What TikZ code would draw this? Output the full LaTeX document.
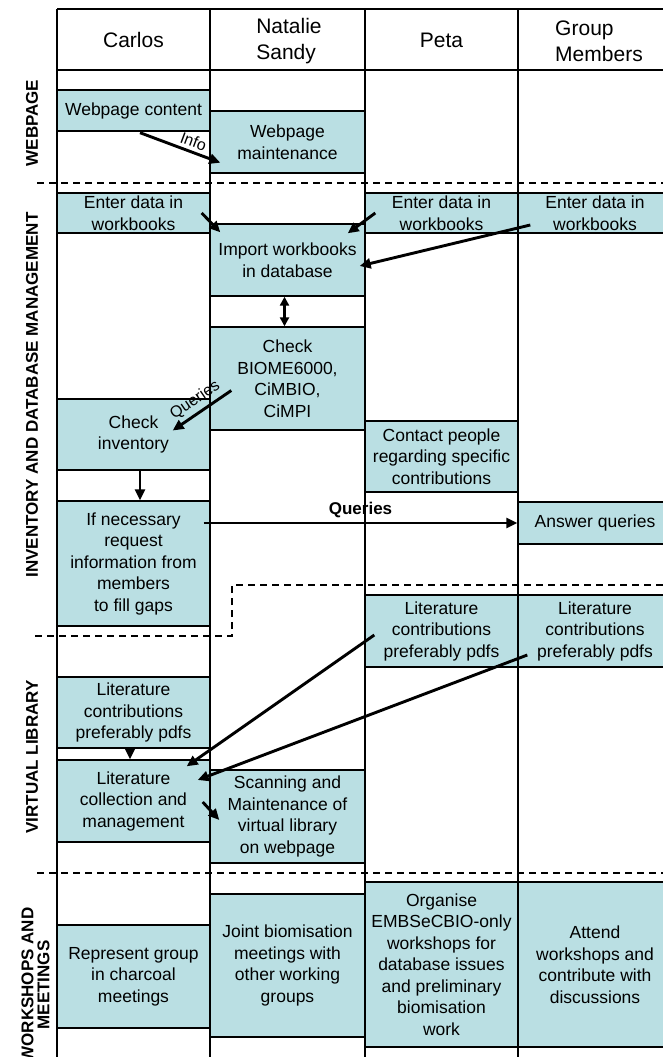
\documentclass[tikz,border=0pt]{standalone}
\usepackage{fontspec}
\setmainfont{Liberation Sans}
\usetikzlibrary{calc,arrows.meta}
\definecolor{cellblue}{RGB}{186,223,227}

\begin{document}
\begin{tikzpicture}[x=1pt,y=-1pt,
  task/.style={draw,fill=cellblue,line width=1.4pt,inner sep=0pt,align=center,font=\fontsize{17.5pt}{21.5pt}\selectfont},
  head/.style={align=left,font=\fontsize{21pt}{26pt}\selectfont},
  lane/.style={rotate=90,align=center,font=\bfseries\fontsize{17pt}{16pt}\selectfont},
  flow/.style={line width=2.9pt,-{Triangle[length=11pt,width=10pt]}},
  both/.style={line width=2.9pt,{Triangle[length=9pt,width=9pt]}-{Triangle[length=9pt,width=9pt]}},
  laneline/.style={line width=1.4pt},
  sepline/.style={line width=1.3pt,dash pattern=on 7pt off 5pt},
  tag/.style={font=\fontsize{16pt}{18pt}\selectfont}]
\fill[white] (0,0) rectangle (663,1057);
\useasboundingbox (0,0) rectangle (663,1057);

\draw[laneline] (57,9) -- (672,9);
\draw[laneline] (57,70) -- (672,70);
\draw[laneline] (57,9) -- (57,1060);
\draw[laneline] (210,9) -- (210,1060);
\draw[laneline] (365,9) -- (365,1060);
\draw[laneline] (518,9) -- (518,1060);

\node[head] (carlos) at (133.5,40) {Carlos};
\node[head] (natalie) at (289,41) {Natalie\\Sandy};
\node[head] (peta) at (441.5,40) {Peta};
\node[head] (members) at (599,41) {Group\\Members};

\node[lane] (webLane) at (32,123) {WEBPAGE};
\node[lane] (invLane) at (32,395) {INVENTORY AND DATABASE MANAGEMENT};
\node[lane] (libLane) at (32,757) {VIRTUAL LIBRARY};
\node[lane] (wsLane) at (35.5,985) {WORKSHOPS AND\\MEETINGS};

\node[task,minimum width=153pt,minimum height=41pt] (wc) at (133.5,110.5) {Webpage content};
\node[task,minimum width=155pt,minimum height=62pt] (wm) at (287.5,142) {Webpage\\maintenance};
\node[task,minimum width=153pt,minimum height=40pt] (ed1) at (133.5,213) {Enter data in\\workbooks};
\node[task,minimum width=153pt,minimum height=40pt] (ed3) at (441.5,213) {Enter data in\\workbooks};
\node[task,minimum width=154pt,minimum height=40pt] (ed4) at (595,213) {Enter data in\\workbooks};
\node[task,minimum width=155pt,minimum height=72pt] (imp) at (287.5,260) {Import workbooks\\in database};
\node[task,minimum width=155pt,minimum height=103pt] (chk) at (287.5,378.5) {Check\\BIOME6000,\\CiMBIO,\\CiMPI};
\node[task,minimum width=153pt,minimum height=71pt] (ci) at (133.5,434.5) {Check\\inventory};
\node[task,minimum width=153pt,minimum height=71pt] (cont) at (441.5,456.5) {Contact people\\regarding specific\\contributions};
\node[task,minimum width=153pt,minimum height=125pt] (req) at (133.5,563.5) {If necessary\\request\\information from\\members\\to fill gaps};
\node[task,minimum width=154pt,minimum height=42pt] (ans) at (595,523) {Answer queries};
\node[task,minimum width=153pt,minimum height=72pt] (lit3) at (441.5,631) {Literature\\contributions\\preferably pdfs};
\node[task,minimum width=154pt,minimum height=72pt] (lit4) at (595,631) {Literature\\contributions\\preferably pdfs};
\node[task,minimum width=153pt,minimum height=71pt] (lit1) at (133.5,712.5) {Literature\\contributions\\preferably pdfs};
\node[task,minimum width=153pt,minimum height=82pt] (lcm) at (133.5,801) {Literature\\collection and\\management};
\node[task,minimum width=155pt,minimum height=93pt] (scan) at (287.5,816.5) {Scanning and\\Maintenance of\\virtual library\\on webpage};
\node[task,minimum width=153pt,minimum height=103pt] (rep) at (133.5,976.5) {Represent group\\in charcoal\\meetings};
\node[task,minimum width=155pt,minimum height=143pt] (joint) at (287.5,965.5) {Joint biomisation\\meetings with\\other working\\groups};
\node[task,minimum width=153pt,minimum height=165pt] (org) at (441.5,964.5) {Organise\\EMBSeCBIO-only\\workshops for\\database issues\\and preliminary\\biomisation\\work};
\node[task,minimum width=154pt,minimum height=165pt] (att) at (595,964.5) {Attend\\workshops and\\contribute with\\discussions};

\draw[sepline] (37,183) -- (663,183);
\draw[sepline] (35,636) -- (232,636) -- (232,585) -- (663,585);
\draw[sepline] (37,873) -- (663,873);

\draw[flow] ($(wc.south)+(6.5,1)$) -- ($(wm.south west)+(11,-11)$) node[tag,pos=0.62,above,sloped] {Info};
\draw[flow] ($(ed1.east)+(-9,0)$) -- ($(imp.north west)+(11,9)$);
\draw[flow] ($(ed3.west)+(11,0)$) -- ($(imp.north east)+(-18,10)$);
\draw[flow] ($(ed4.west)+(13,12)$) -- ($(imp.east)+(-6,6)$);
\draw[both] ($(imp.south)+(-3,0)$) -- ($(chk.north)+(-3,0)$);
\draw[flow] ($(chk.west)+(22,12)$) -- ($(ci.east)+(-38,-4)$) node[tag,midway,above,sloped] {Queries};
\draw[flow] ($(ci.south)+(6.5,0)$) -- ($(req.north)+(6.5,0)$);
\draw[flow] ($(req.east |- ans.west)+(-7,0)$) -- (ans.west) node[tag,midway,above,font=\bfseries\fontsize{17pt}{18pt}\selectfont] {Queries};
\draw[flow] ($(lit1.south)+(-3.5,0)$) -- ($(lcm.north)+(-3.5,0)$);
\draw[flow] ($(lit3.west)+(10,4)$) -- ($(lcm.north east)+(-24,7)$);
\draw[flow] ($(lit4.west)+(10,24)$) -- ($(lcm.east)+(-13,-21)$);
\draw[flow] ($(lcm.east)+(-8,1)$) -- ($(scan.west)+(10,3.5)$);
\end{tikzpicture}
\end{document}
